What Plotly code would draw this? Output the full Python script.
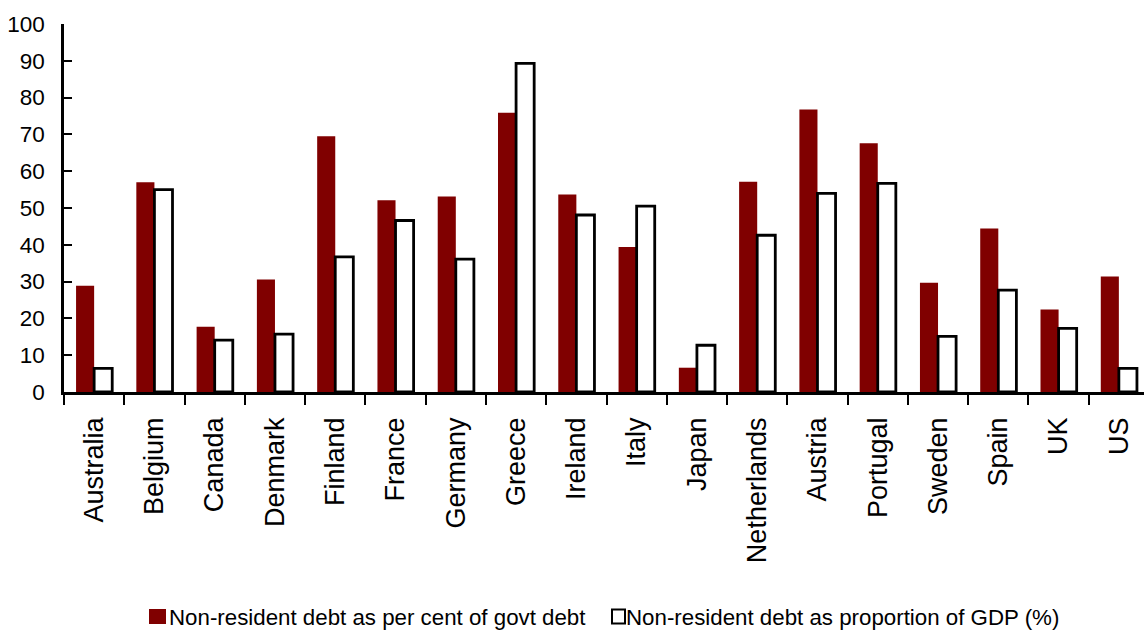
import plotly.graph_objects as go

# Countries along the category axis
countries = ["Australia", "Belgium", "Canada", "Denmark", "Finland", "France",
             "Germany", "Greece", "Ireland", "Italy", "Japan", "Netherlands",
             "Austria", "Portugal", "Sweden", "Spain", "UK", "US"]

# Non-resident holdings of government debt
pct_of_govt_debt = [28.9, 57.0, 17.7, 30.6, 69.5, 52.1, 53.1, 75.9, 53.7,
                    39.4, 6.6, 57.1, 76.8, 67.6, 29.7, 44.4, 22.4, 31.4]
pct_of_gdp = [6.4, 55.0, 14.1, 15.7, 36.7, 46.6, 36.1, 89.3, 48.1,
              50.5, 12.7, 42.6, 54.0, 56.7, 15.1, 27.7, 17.3, 6.4]

name_govt = "Non-resident debt as per cent of govt debt"
name_gdp = "Non-resident debt as proportion of GDP (%)"

y_ticks = [0, 10, 20, 30, 40, 50, 60, 70, 80, 90, 100]

RED = "#800000"
FONT = "Liberation Sans, Arial, sans-serif"

W, H = 1144, 632
ML, MR, MT, MB = 64, 0, 24, 240
PW = W - ML - MR
PH = H - MT - MB

fig = go.Figure()
fig.add_trace(go.Bar(x=countries, y=pct_of_govt_debt, name=name_govt,
                     marker=dict(color=RED, line=dict(width=0)),
                     showlegend=False))
fig.add_trace(go.Bar(x=countries, y=pct_of_gdp, name=name_gdp,
                     marker=dict(color="white", line=dict(color="black", width=2.8)),
                     showlegend=False))


def px_x(p):
    return (p - ML) / PW


def px_y(p):
    return (MT + PH - p) / PH


# Legend drawn as swatches plus labels under the chart
legend_y = 617
fig.add_shape(type="rect", xref="paper", yref="paper",
              x0=px_x(149), x1=px_x(166), y0=px_y(609), y1=px_y(624),
              fillcolor=RED, line=dict(width=0))
fig.add_shape(type="rect", xref="paper", yref="paper",
              x0=px_x(612), x1=px_x(625), y0=px_y(609.5), y1=px_y(623.5),
              fillcolor="white", line=dict(color="black", width=2))
fig.add_annotation(text=name_govt, xref="paper", yref="paper",
                   x=px_x(167), y=px_y(legend_y), xanchor="left", yanchor="middle",
                   showarrow=False, font=dict(family=FONT, size=22.3, color="black"))
fig.add_annotation(text=name_gdp, xref="paper", yref="paper",
                   x=px_x(624), y=px_y(legend_y), xanchor="left", yanchor="middle",
                   showarrow=False, font=dict(family=FONT, size=22.3, color="black"))

fig.update_layout(
    width=W, height=H,
    margin=dict(l=ML, r=MR, t=MT, b=MB, pad=0),
    paper_bgcolor="white", plot_bgcolor="white",
    barmode="group", bargap=0.4, bargroupgap=0,
    font=dict(family=FONT, color="black"),
)
fig.update_xaxes(
    type="category", range=[-0.5, 17.417],
    showline=True, linecolor="black", linewidth=2.5,
    ticks="outside", tickson="boundaries", ticklen=10, tickwidth=2, tickcolor="black",
    tickangle=-90, tickfont=dict(family=FONT, size=27, color="black"),
    ticklabelstandoff=12, showgrid=False, zeroline=False,
)
fig.update_yaxes(
    range=[0, 100], tickvals=y_ticks, ticktext=[str(v) for v in y_ticks],
    showline=True, linecolor="black", linewidth=2.5,
    ticks="inside", ticklen=8, tickwidth=2, tickcolor="black",
    tickfont=dict(family=FONT, size=22.5, color="black"),
    ticklabelstandoff=12, showgrid=False, zeroline=False,
)

fig.write_html("out.html")
